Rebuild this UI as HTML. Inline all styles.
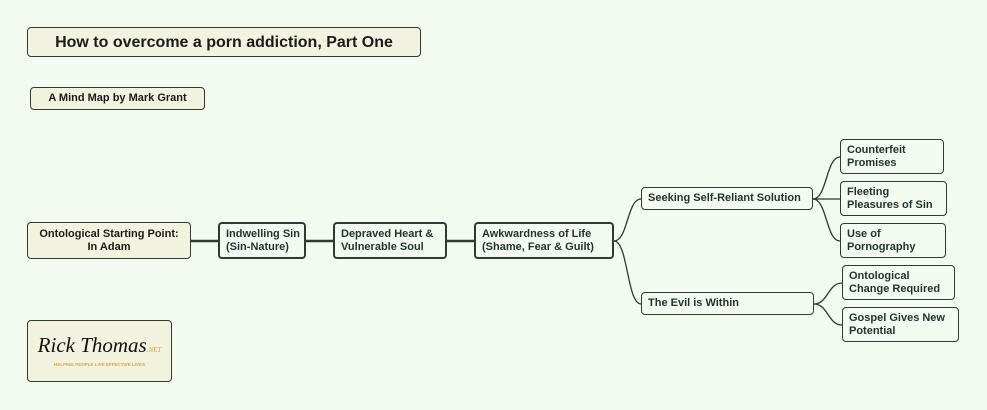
<!DOCTYPE html>
<html><head><style>
html,body{margin:0;padding:0;}
body{width:987px;height:410px;background:#f3fbf1;position:relative;overflow:hidden;font-family:"Liberation Sans",sans-serif;font-weight:bold;}
.b{position:absolute;box-sizing:border-box;border:1.5px solid #2f3a33;border-radius:4px;font-size:11px;line-height:13px;color:#1f3330;display:flex;align-items:center;padding:0 6px;white-space:nowrap;}
.y{background:#f2f3de;color:#1b1b1b;justify-content:center;text-align:center;}
.t{border-width:2.5px;}
</style></head><body>
<svg width="987" height="410" style="position:absolute;left:0;top:0" fill="none" stroke="#2f3a33">
<g stroke-width="2.5">
<line x1="191" y1="241" x2="218" y2="241"/>
<line x1="306" y1="241" x2="333" y2="241"/>
<line x1="447" y1="241" x2="474" y2="241"/>
</g>
<g stroke-width="1.3">
<path d="M614 241 C628 241,627 199,641 199"/>
<path d="M614 241 C628 241,627 304,641 304"/>
<path d="M813 199 C827 199,826 157,840 157"/>
<path d="M813 199 L840 199"/>
<path d="M813 199 C827 199,826 241,840 241"/>
<path d="M814 304 C828 304,828 283,842 283"/>
<path d="M814 304 C828 304,828 325,842 325"/>
</g>
</svg>
<div class="b y" style="left:27px;top:27px;width:394px;height:30px;font-size:16px;">How to overcome a porn addiction, Part One</div>
<div class="b y" style="left:30px;top:87px;width:175px;height:23px;">A Mind Map by Mark Grant</div>
<div class="b y" style="left:27px;top:222px;width:164px;height:37px;">Ontological Starting Point:<br>In Adam</div>
<div class="b t" style="left:218px;top:222px;width:88px;height:37px;">Indwelling Sin<br>(Sin-Nature)</div>
<div class="b t" style="left:333px;top:222px;width:114px;height:37px;">Depraved Heart &amp;<br>Vulnerable Soul</div>
<div class="b t" style="left:474px;top:222px;width:140px;height:37px;">Awkwardness of Life<br>(Shame, Fear &amp; Guilt)</div>
<div class="b" style="left:641px;top:187px;width:172px;height:23px;">Seeking Self-Reliant Solution</div>
<div class="b" style="left:641px;top:292px;width:173px;height:23px;">The Evil is Within</div>
<div class="b" style="left:840px;top:139px;width:104px;height:35px;border-width:1px;">Counterfeit<br>Promises</div>
<div class="b" style="left:840px;top:181px;width:107px;height:35px;border-width:1px;">Fleeting<br>Pleasures of Sin</div>
<div class="b" style="left:840px;top:223px;width:106px;height:35px;border-width:1px;">Use of<br>Pornography</div>
<div class="b" style="left:842px;top:265px;width:113px;height:35px;border-width:1px;">Ontological<br>Change Required</div>
<div class="b" style="left:842px;top:307px;width:117px;height:35px;border-width:1px;">Gospel Gives New<br>Potential</div>
<div class="b y" style="left:27px;top:320px;width:145px;height:62px;flex-direction:column;">
<div style="font-family:'Liberation Serif',serif;font-style:italic;font-size:21px;line-height:22px;color:#111;font-weight:normal;">Rick Thomas<span style="font-size:7px;color:#e0a040;">.NET</span></div>
<div style="font-size:4.5px;line-height:7px;color:#e0a040;">HELPING PEOPLE LIVE EFFECTIVE LIVES</div>
</div>
</body></html>
